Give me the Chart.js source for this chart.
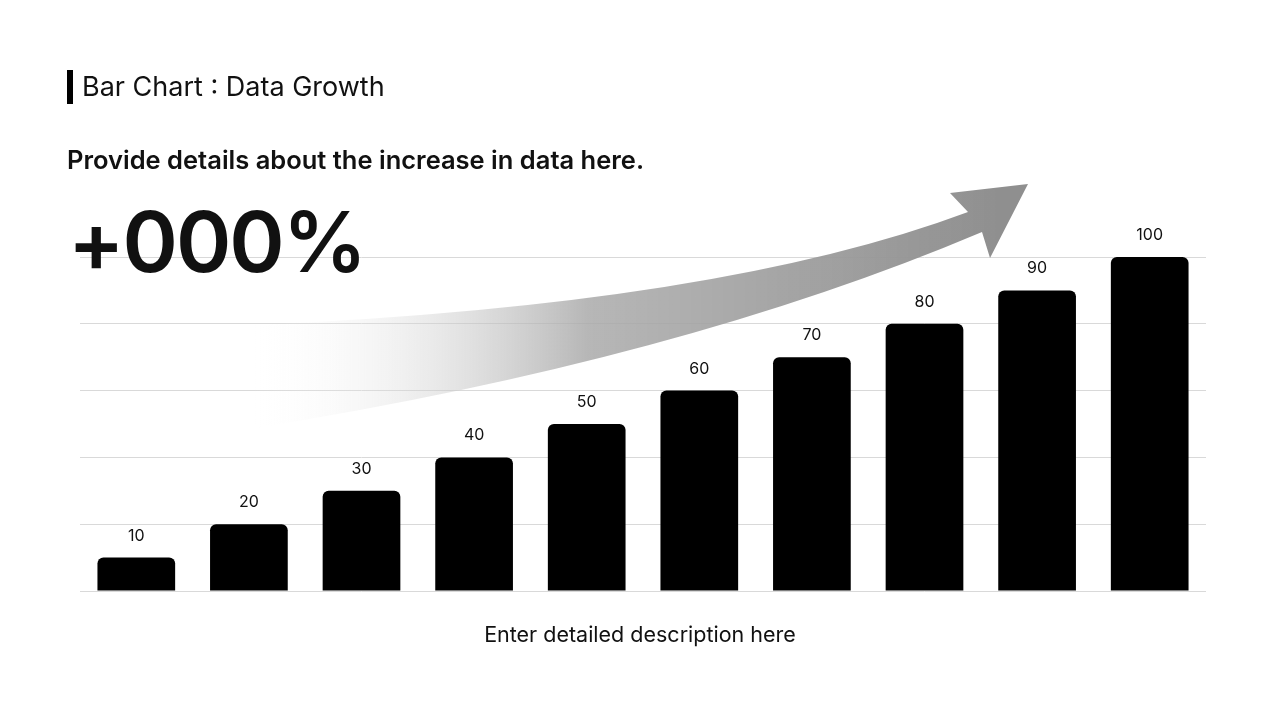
<!DOCTYPE html>
<html><head><meta charset="utf-8">
<script src="https://cdn.jsdelivr.net/npm/chart.js@4"></script>
<style>
body{margin:0;width:1280px;height:720px;background:#fff;font-family:Inter,"Noto Sans",sans-serif;overflow:hidden;position:relative}
#c{position:absolute;left:0;top:0}
.t{position:absolute;color:#111;white-space:nowrap}
</style></head><body>
<canvas id="c" width="1280" height="720"></canvas>
<div class="t" style="left:67px;top:70px;height:34px;border-left:6px solid #000;padding-left:9px;font-size:27px;line-height:34px">Bar Chart : Data Growth</div>
<div class="t" style="left:67px;top:144px;font-size:25.5px;font-weight:600">Provide details about the increase in data here.</div>
<div class="t" style="left:68px;top:192px;font-size:84px;font-weight:600;letter-spacing:-2px;line-height:100px">+000%</div>
<div class="t" style="left:0;width:1280px;text-align:center;top:621px;font-size:21.5px">Enter detailed description here</div>
<script>
const categories=["A","B","C","D","E","F","G","H","I","J"];
const values=[10,20,30,40,50,60,70,80,90,100];
const arrow={id:'arrow',beforeDatasetsDraw(ch){const x=ch.ctx;x.save();
const g=x.createLinearGradient(250,0,1000,0);g.addColorStop(0,'rgba(255,255,255,0)');g.addColorStop(0.45,'rgba(170,170,170,0.85)');g.addColorStop(1,'#8f8f8f');
x.fillStyle=g;x.beginPath();x.moveTo(255,325);x.quadraticCurveTo(720,305,968,212);x.lineTo(950,193);x.lineTo(1028,184);x.lineTo(990,258);x.lineTo(982,232);x.quadraticCurveTo(680,360,255,428);x.closePath();x.fill();x.restore();}};
const labels={id:'labels',afterDatasetsDraw(ch){const x=ch.ctx;x.save();x.font='16px Inter';x.fillStyle='#111';x.textAlign='center';
ch.getDatasetMeta(0).data.forEach((b,i)=>x.fillText(values[i],b.x,b.y-17));x.restore();}};
new Chart(document.getElementById('c'),{type:'bar',data:{labels:categories,datasets:[{data:values,backgroundColor:'#000',borderRadius:{topLeft:6,topRight:6,bottomLeft:0,bottomRight:0},borderSkipped:false,categoryPercentage:1,barPercentage:0.69}]},
options:{responsive:false,animation:false,layout:{padding:{left:80,right:74,top:257,bottom:129}},
plugins:{legend:{display:false},tooltip:{enabled:false}},
scales:{x:{display:true,ticks:{display:false},grid:{display:false,drawTicks:false},border:{display:false}},
y:{min:0,max:100,ticks:{display:false,stepSize:20},grid:{color:'#d9d9d9',drawTicks:false},border:{display:false}}}},
plugins:[arrow,labels]});
</script></body></html>
